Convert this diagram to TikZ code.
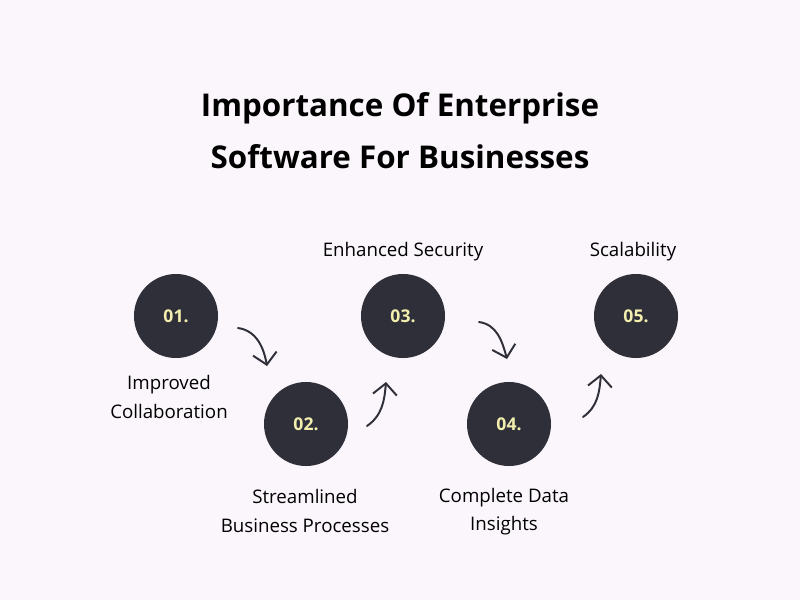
\documentclass[tikz,border=0pt]{standalone}
\usepackage{fontspec}
\setmainfont{Open Sans}
\usetikzlibrary{arrows.meta}

\definecolor{pagebg}{HTML}{FBF6FC}
\definecolor{stepdark}{HTML}{2F2F39}
\definecolor{stepnum}{HTML}{F1EEAE}

\begin{document}
\begin{tikzpicture}[
    x=0.025cm,
    y=0.025cm,
    line cap=round,
    line join=round,
    stepcircle/.style={
        circle,
        fill=stepdark,
        minimum size=2.1cm,
        inner sep=0pt,
        text=stepnum,
        font=\fontsize{12.5}{15}\selectfont\bfseries
    },
    steplabel/.style={
        align=center,
        text=black,
        font=\fontsize{13.3}{20}\selectfont
    },
    turn/.style={
        stepdark,
        line width=1.4pt,
        -{Straight Barb[length=8pt,width=17pt,line width=1.4pt]}
    }
]

% Page background
\fill[pagebg] (0,-600) rectangle (800,0);
\useasboundingbox (0,-600) rectangle (800,0);

% Title
\node[align=center,font=\fontsize{22.3}{37}\selectfont\bfseries] (title)
    at (400,-131) {Importance Of Enterprise\\Software For Businesses};

% The five steps
\node[stepcircle] (s1) at (176,-316) {01.};
\node[stepcircle] (s2) at (306,-424) {02.};
\node[stepcircle] (s3) at (403,-316) {03.};
\node[stepcircle] (s4) at (509,-424) {04.};
\node[stepcircle] (s5) at (636,-316) {05.};

% Labels of the steps
\node[steplabel] (l1) at (169,-397) {Improved\\Collaboration};
\node[steplabel] (l2) at (305,-511) {Streamlined\\Business Processes};
\node[steplabel] (l3) at (403,-252) {Enhanced Security};
\node[steplabel] (l4) at (504,-512) {Complete Data\\Insights};
\node[steplabel] (l5) at (633,-252) {Scalability};

% End points of the curved arrows
\coordinate (a1s) at (238,-328);
\coordinate (a1e) at (267,-366);
\coordinate (a2s) at (367,-426);
\coordinate (a2e) at (386,-382);
\coordinate (a3s) at (479,-322);
\coordinate (a3e) at (507,-359);
\coordinate (a4s) at (583,-417);
\coordinate (a4e) at (601,-374);

% Curved arrows between the steps
\draw[turn] (a1s) to[out=-8,in=100] (a1e);
\draw[turn] (a2s) to[out=35,in=-95] (a2e);
\draw[turn] (a3s) to[out=-8,in=105] (a3e);
\draw[turn] (a4s) to[out=35,in=-95] (a4e);

\end{tikzpicture}
\end{document}
